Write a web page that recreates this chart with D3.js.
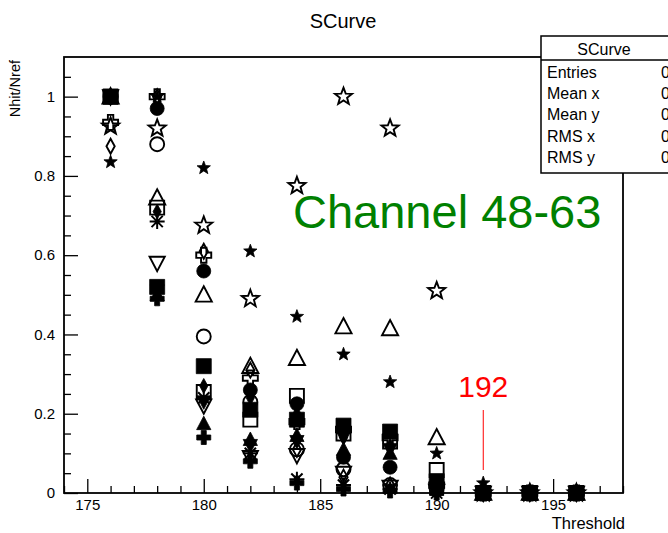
<!DOCTYPE html>
<html>
<head>
<meta charset="utf-8">
<script src="https://cdn.jsdelivr.net/npm/d3@7"></script>
<style>
  html, body { margin: 0; padding: 0; background: #fff; }
  svg { display: block; font-family: "Liberation Sans", Arial, Helvetica, sans-serif; }
</style>
</head>
<body>
<svg id="chart" width="668" height="533"></svg>
<script>
// Threshold scan points (DAC units)
const thresholds = [176, 178, 180, 182, 184, 186, 188, 190, 192, 194, 196];

// Nhit/Nref per channel, one array per channel marker
const chOpenCross    = [0.935, 1.00, 0.60, 0.29, 0.18, 0.16, 0.14, 0.02, 0, 0, 0];
const chOpenDiamond  = [0.875, 1.00, 0.61, 0.31, 0.11, 0.04, 0.02, 0.01, 0, 0, 0];
const chOpenCircle   = [1.00, 0.88, 0.395, 0.23, 0.11, 0.06, 0.02, 0.01, 0, 0, 0];
const chOpenTriUp    = [1.00, 0.745, 0.50, 0.32, 0.34, 0.42, 0.415, 0.14, 0, 0, 0];
const chOpenSquare   = [1.00, 0.72, 0.255, 0.185, 0.245, 0.15, 0.13, 0.058, 0, 0, 0];
const chFullDiamond  = [1.00, 0.71, 0.27, 0.24, 0.20, 0.14, 0.12, 0.02, 0, 0, 0];
const chAsterisk     = [1.00, 0.685, 0.24, 0.10, 0.035, 0.02, 0.01, 0, 0, 0, 0];
const chOpenTriDown  = [1.00, 0.58, 0.22, 0.09, 0.095, 0.05, 0.015, 0.005, 0, 0, 0];
const chFullTriDown  = [1.00, 0.51, 0.23, 0.12, 0.13, 0.14, 0.11, 0.015, 0, 0, 0];
const chFullTriUp    = [1.00, 0.50, 0.175, 0.135, 0.145, 0.11, 0.10, 0.01, 0, 0, 0];
const chFullCross    = [1.00, 0.49, 0.14, 0.08, 0.025, 0.01, 0.005, 0, 0, 0, 0];
const chFullCircle   = [1.00, 0.97, 0.56, 0.26, 0.225, 0.09, 0.065, 0.015, 0, 0, 0];
const chOpenStar     = [0.925, 0.92, 0.675, 0.49, 0.775, 1.00, 0.92, 0.51, 0, 0, 0];
const chFullStar     = [0.835, 1.00, 0.82, 0.61, 0.445, 0.35, 0.28, 0.10, 0.025, 0, 0];
const chFullSquare   = [1.00, 0.52, 0.32, 0.21, 0.185, 0.17, 0.155, 0.03, 0, 0, 0];

// Axis ticks
const xMajorTicks = [175, 180, 185, 190, 195];
const yMajorTicks = [0, 0.2, 0.4, 0.6, 0.8, 1];

// Statistics box rows
const statLabels = ["Entries", "Mean x", "Mean y", "RMS x", "RMS y"];
const statValues = ["0", "0", "0", "0", "0"];

// Marker shapes in ROOT style; "size" is the half-width in px
const shapes = {
  square: { draw(c, r) { c.rect(-r, -r, 2 * r, 2 * r); } },
  circle: { draw(c, r) { c.moveTo(r, 0); c.arc(0, 0, r, 0, 2 * Math.PI); } },
  triUp: { draw(c, r) { c.moveTo(0, -r); c.lineTo(r * 0.95, r * 0.8); c.lineTo(-r * 0.95, r * 0.8); c.closePath(); } },
  triDown: { draw(c, r) { c.moveTo(0, r); c.lineTo(r * 0.95, -r * 0.8); c.lineTo(-r * 0.95, -r * 0.8); c.closePath(); } },
  diamond: { draw(c, r) { c.moveTo(0, -r); c.lineTo(r * 0.55, 0); c.lineTo(0, r); c.lineTo(-r * 0.55, 0); c.closePath(); } },
  star: { draw(c, r) {
    for (let i = 0; i < 10; i++) {
      const rr = i % 2 ? r * 0.42 : r;
      const a = -Math.PI / 2 + i * Math.PI / 5;
      const px = rr * Math.cos(a), py = rr * Math.sin(a);
      if (i === 0) c.moveTo(px, py); else c.lineTo(px, py);
    }
    c.closePath();
  } },
  cross: { draw(c, r) {
    const w = r * 0.36;
    c.moveTo(-w, -r); c.lineTo(w, -r); c.lineTo(w, -w); c.lineTo(r, -w); c.lineTo(r, w);
    c.lineTo(w, w); c.lineTo(w, r); c.lineTo(-w, r); c.lineTo(-w, w); c.lineTo(-r, w);
    c.lineTo(-r, -w); c.lineTo(-w, -w); c.closePath();
  } },
  asterisk: { draw(c, r) {
    const d = r * 0.75;
    c.moveTo(-r, 0); c.lineTo(r, 0);
    c.moveTo(0, -r); c.lineTo(0, r);
    c.moveTo(-d, -d); c.lineTo(d, d);
    c.moveTo(-d, d); c.lineTo(d, -d);
  } }
};

// Channels in drawing order (later ones on top)
const channels = [
  { values: chOpenCross,   shape: "cross",    filled: false, r: 7.5 },
  { values: chOpenDiamond, shape: "diamond",  filled: false, r: 7.5 },
  { values: chOpenCircle,  shape: "circle",   filled: false, r: 7 },
  { values: chOpenTriUp,   shape: "triUp",    filled: false, r: 8.5 },
  { values: chOpenSquare,  shape: "square",   filled: false, r: 7 },
  { values: chFullDiamond, shape: "diamond",  filled: true,  r: 7.5 },
  { values: chAsterisk,    shape: "asterisk", filled: false, r: 7.5 },
  { values: chOpenTriDown, shape: "triDown",  filled: false, r: 8 },
  { values: chFullTriDown, shape: "triDown",  filled: true,  r: 7.5 },
  { values: chFullTriUp,   shape: "triUp",    filled: true,  r: 7.5 },
  { values: chFullCross,   shape: "cross",    filled: true,  r: 7 },
  { values: chFullCircle,  shape: "circle",   filled: true,  r: 7 },
  { values: chOpenStar,    shape: "star",     filled: false, r: 9 },
  { values: chFullStar,    shape: "star",     filled: true,  r: 7 },
  { values: chFullSquare,  shape: "square",   filled: true,  r: 7.5 }
];

const svg = d3.select("#chart");
const margin = { left: 64, top: 57, right: 623, bottom: 493 };

const x = d3.scaleLinear().domain([174, 198]).range([margin.left, margin.right]);
const y = d3.scaleLinear().domain([0, 1.1]).range([margin.bottom, margin.top]);

// Title
svg.append("text")
  .attr("x", 343).attr("y", 28)
  .attr("text-anchor", "middle")
  .attr("font-size", 20)
  .text("SCurve");

// Axes with inward ticks
const xMinor = d3.range(174, 199, 1).filter(v => !xMajorTicks.includes(v));
svg.append("g")
  .attr("transform", `translate(0,${margin.bottom})`)
  .call(d3.axisBottom(x).tickValues(xMinor).tickSize(-7).tickFormat(""))
  .call(g => g.select(".domain").remove())
  .call(g => g.selectAll("line").attr("stroke-width", 1.3));

svg.append("g")
  .attr("transform", `translate(0,${margin.bottom})`)
  .call(d3.axisBottom(x).tickValues(xMajorTicks).tickSize(-14).tickPadding(6).tickFormat(d3.format("d")))
  .call(g => g.select(".domain").remove())
  .call(g => g.selectAll("line").attr("stroke-width", 1.3))
  .call(g => g.selectAll("text").attr("font-size", 15).attr("font-family", "Liberation Sans, Arial, sans-serif").attr("fill", "#000"));

const yMinor = d3.range(0, 22).map(i => +(i * 0.05).toFixed(2)).filter(v => !yMajorTicks.includes(v));
svg.append("g")
  .attr("transform", `translate(${margin.left},0)`)
  .call(d3.axisLeft(y).tickValues(yMinor).tickSize(-7).tickFormat(""))
  .call(g => g.select(".domain").remove())
  .call(g => g.selectAll("line").attr("stroke-width", 1.3));

svg.append("g")
  .attr("transform", `translate(${margin.left},0)`)
  .call(d3.axisLeft(y).tickValues(yMajorTicks).tickSize(-14).tickPadding(9).tickFormat(d => d === 0 || d === 1 ? d3.format("d")(d) : d3.format(".1f")(d)))
  .call(g => g.select(".domain").remove())
  .call(g => g.selectAll("line").attr("stroke-width", 1.3))
  .call(g => g.selectAll("text").attr("font-size", 15).attr("font-family", "Liberation Sans, Arial, sans-serif").attr("fill", "#000"));

// Frame
svg.append("rect")
  .attr("x", margin.left).attr("y", margin.top)
  .attr("width", margin.right - margin.left).attr("height", margin.bottom - margin.top)
  .attr("fill", "none").attr("stroke", "#000").attr("stroke-width", 1.8);

// Axis titles
svg.append("text")
  .attr("transform", `translate(20,${margin.top + 3}) rotate(-90)`)
  .attr("text-anchor", "end")
  .attr("font-size", 14.5)
  .text("Nhit/Nref");

svg.append("text")
  .attr("x", margin.right + 2).attr("y", 529)
  .attr("text-anchor", "end")
  .attr("font-size", 16.5)
  .text("Threshold");

// Markers
const plot = svg.append("g");
channels.forEach(ch => {
  const sym = d3.symbol().type(shapes[ch.shape]).size(ch.r);
  const hollowLine = ch.shape === "asterisk";
  plot.append("g")
    .selectAll("path")
    .data(thresholds.map((t, i) => ({ t, v: ch.values[i] })))
    .join("path")
    .attr("transform", d => `translate(${x(d.t)},${y(d.v)})`)
    .attr("d", sym)
    .attr("fill", ch.filled ? "#000" : "none")
    .attr("stroke", "#000")
    .attr("stroke-width", hollowLine ? 2 : (ch.filled ? 0.8 : 1.9))
    .attr("stroke-linejoin", "miter");
});

// Channel label
svg.append("text")
  .attr("x", 293).attr("y", 228)
  .attr("font-size", 47)
  .attr("fill", "#008000")
  .text("Channel 48-63");

// Threshold marker annotation
const markThr = 192;
svg.append("text")
  .attr("x", x(markThr)).attr("y", 397)
  .attr("text-anchor", "middle")
  .attr("font-size", 30)
  .attr("fill", "#ff0000")
  .text(String(markThr));
svg.append("line")
  .attr("x1", x(markThr)).attr("x2", x(markThr))
  .attr("y1", 410).attr("y2", 470)
  .attr("stroke", "#ff0000").attr("stroke-width", 1);

// Statistics box (runs off the right edge of the canvas)
const sb = svg.append("g");
sb.append("rect")
  .attr("x", 541).attr("y", 36).attr("width", 160).attr("height", 137)
  .attr("fill", "#fff").attr("stroke", "#000").attr("stroke-width", 1.5);
sb.append("line")
  .attr("x1", 541).attr("x2", 701).attr("y1", 60).attr("y2", 60)
  .attr("stroke", "#000").attr("stroke-width", 1.5);
sb.append("text")
  .attr("x", 604).attr("y", 55)
  .attr("text-anchor", "middle")
  .attr("font-size", 16)
  .text("SCurve");
sb.selectAll("text.lbl")
  .data(statLabels)
  .join("text")
  .attr("class", "lbl")
  .attr("x", 547).attr("y", (d, i) => 78 + i * 21.2)
  .attr("font-size", 16)
  .text(d => d);
sb.selectAll("text.val")
  .data(statValues)
  .join("text")
  .attr("class", "val")
  .attr("x", 661).attr("y", (d, i) => 78 + i * 21.2)
  .attr("font-size", 16)
  .text(d => d);
</script>
</body>
</html>
